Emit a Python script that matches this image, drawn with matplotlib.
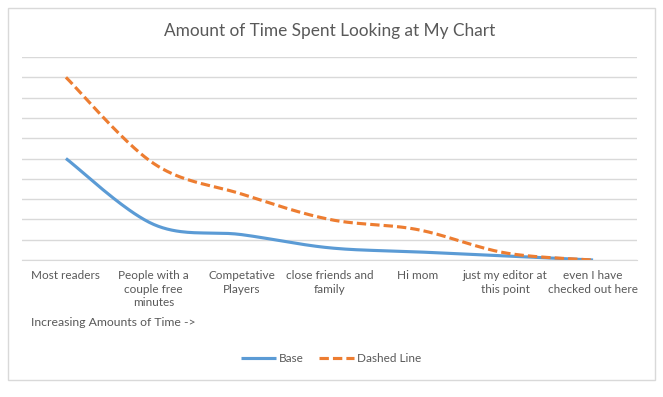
import numpy as np
import matplotlib.pyplot as plt
from matplotlib.patches import Rectangle

# data (y axis has no labels, grid step = 1)
categories = ["Most readers", "People with a\ncouple free\nminutes", "Competative\nPlayers",
              "close friends and\nfamily", "Hi mom", "just my editor at\nthis point",
              "even I have\nchecked out here"]
base = [5.0, 1.75, 1.25, 0.6, 0.4, 0.2, 0.0]
dashed = [9.0, 4.75, 3.25, 2.0, 1.5, 0.35, 0.0]

title = "Amount of Time Spent Looking at My Chart"
xlabel = "Increasing Amounts of Time ->"

text_col = "#595959"
grid_col = "#D9D9D9"
plt.rcParams['font.family'] = ['Lato', 'DejaVu Sans']


def smooth(xs, ys, n=40):
    # excel-like smoothed line: bezier segments with catmull-rom control points
    p = np.column_stack([xs, ys]).astype(float)
    p = np.vstack([p[0], p, p[-1]])
    out = []
    t = np.linspace(0, 1, n)
    for i in range(1, len(p) - 2):
        p0, p1, p2, p3 = p[i - 1], p[i], p[i + 1], p[i + 2]
        c1 = p1 + (p2 - p0) / 6
        c2 = p2 - (p3 - p1) / 6
        seg = ((1 - t) ** 3)[:, None] * p1 + (3 * (1 - t) ** 2 * t)[:, None] * c1 \
            + (3 * (1 - t) * t ** 2)[:, None] * c2 + (t ** 3)[:, None] * p2
        out.append(seg if i == 1 else seg[1:])
    out = np.vstack(out)
    return out[:, 0], out[:, 1]


fig = plt.figure(figsize=(6.63, 3.97), dpi=100)
ax = fig.add_axes([22 / 663, 1 - 260 / 397, 615 / 663, 203 / 397])

x = np.arange(len(categories))
bx, by = smooth(x, base)
dx, dy = smooth(x, dashed)
ax.plot(bx, by, color="#5B9BD5", lw=2.25, label="Base", solid_capstyle="butt")
ax.plot(dx, dy, color="#ED7D31", lw=2.25, label="Dashed Line", dashes=(3, 1.3))

ax.set_xlim(-0.5, len(categories) - 0.5)
ax.set_ylim(0, 10)
ax.set_yticks(np.arange(0, 11, 1))
ax.set_yticklabels([])
ax.set_xticks(x)
ax.set_xticklabels(categories, fontsize=8.5, color=text_col, linespacing=1.25, va="top")
ax.tick_params(axis="both", length=0)
ax.tick_params(axis="x", pad=7.5)
ax.grid(axis="y", color=grid_col, lw=1)
ax.set_axisbelow(True)
for s in ["top", "left", "right"]:
    ax.spines[s].set_visible(False)
ax.spines["bottom"].set_color(grid_col)

fig.text(329.5 / 663, 1 - 31 / 397, title, ha="center", va="center", fontsize=12.4, color=text_col)
fig.text(31 / 663, 1 - 323 / 397, xlabel, ha="left", va="center", fontsize=8.8, color=text_col)

fig.legend(loc="center", bbox_to_anchor=(0.5, 1 - 359 / 397), ncol=2, frameon=False,
           fontsize=8.5, labelcolor=text_col, handlelength=2.9, columnspacing=1.3, handletextpad=0.3)

fig.patches.append(Rectangle((8 / 663, 1 - 380 / 397), 647 / 663, 372 / 397, transform=fig.transFigure,
                             fill=False, edgecolor=grid_col, lw=1))

fig.savefig("out.png", dpi=100, facecolor="white")
